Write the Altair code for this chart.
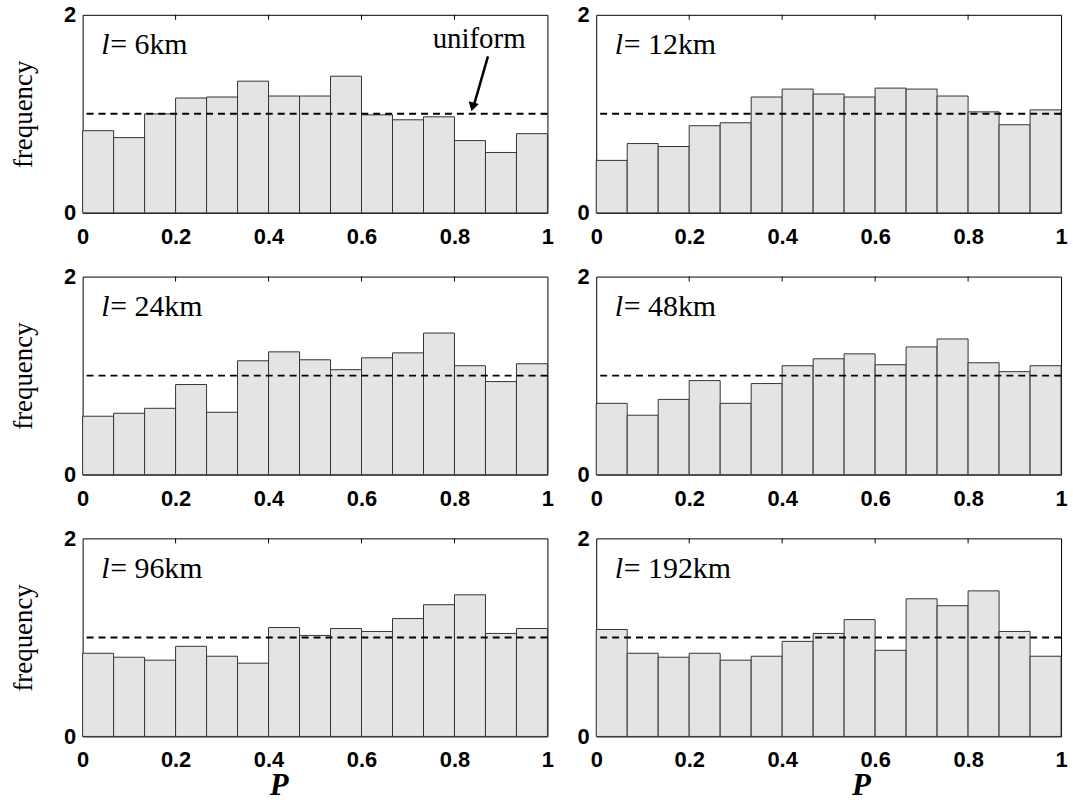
import altair as alt
import pandas as pd

# Histogram of P in 15 equal bins on [0, 1], one panel per length scale l
BIN_EDGES = [i / 15 for i in range(16)]

freq_6km = [0.83, 0.76, 1.00, 1.16, 1.17, 1.33, 1.18, 1.18, 1.38, 0.99, 0.94, 0.97, 0.73, 0.61, 0.80]
freq_12km = [0.53, 0.70, 0.67, 0.88, 0.91, 1.17, 1.25, 1.20, 1.17, 1.26, 1.25, 1.18, 1.02, 0.89, 1.04]
freq_24km = [0.59, 0.62, 0.67, 0.91, 0.63, 1.15, 1.24, 1.16, 1.06, 1.18, 1.23, 1.43, 1.10, 0.94, 1.12]
freq_48km = [0.72, 0.60, 0.76, 0.95, 0.72, 0.92, 1.10, 1.17, 1.22, 1.11, 1.29, 1.37, 1.13, 1.04, 1.10]
freq_96km = [0.84, 0.80, 0.77, 0.91, 0.81, 0.74, 1.10, 1.02, 1.09, 1.06, 1.19, 1.33, 1.43, 1.04, 1.09]
freq_192km = [1.08, 0.84, 0.80, 0.84, 0.77, 0.81, 0.96, 1.04, 1.18, 0.87, 1.39, 1.32, 1.47, 1.06, 0.81]

scale_labels = ["6km", "12km", "24km", "48km", "96km", "192km"]
all_freqs = [freq_6km, freq_12km, freq_24km, freq_48km, freq_96km, freq_192km]

x_ticks = [0, 0.2, 0.4, 0.6, 0.8, 1]
y_ticks = [0, 1, 2]
uniform_level = [1]

W, H = 467, 199
SERIF = "Liberation Serif"
SANS = "Liberation Sans"

xs = alt.Scale(domain=[0, 1], nice=False, zero=False)
ys = alt.Scale(domain=[0, 2], nice=False)


def panel(freqs, km, left_col, bottom_row, with_uniform_note=False):
    bins = pd.DataFrame({"lo": BIN_EDGES[:-1], "hi": BIN_EDGES[1:], "freq": freqs, "base": 0.0})

    x_axis = alt.Axis(
        values=x_ticks, format="~g", labelFlush=False, labelOverlap=False,
        labelPadding=13 if bottom_row else 14,
        title="P" if bottom_row else "",
        titleFontStyle="italic", titleFontWeight="bold", titleFontSize=31,
        titlePadding=0, titleX=197 if left_col else 266,
    )
    y_axis = alt.Axis(
        values=y_ticks, format="d", labelPadding=7, labelOverlap=False,
        title="frequency" if left_col else "", titlePadding=26,
    )

    bars = alt.Chart(bins).mark_rect(
        fill="#e4e4e4", stroke="#333333", strokeWidth=1
    ).encode(
        x=alt.X("lo:Q", scale=xs, axis=x_axis),
        x2="hi:Q",
        y=alt.Y("freq:Q", scale=ys, axis=y_axis),
        y2="base:Q",
    )

    uniform = alt.Chart(pd.DataFrame({"u": uniform_level})).mark_rule(
        color="black", strokeWidth=2, strokeDash=[7, 5]
    ).encode(y=alt.Y("u:Q", scale=ys))

    # inward tick marks on the top edge and right edge (box style)
    top_ticks = alt.Chart(pd.DataFrame({"t": x_ticks[1:-1]})).mark_rule(
        color="black", strokeWidth=1
    ).encode(x=alt.X("t:Q", scale=xs), y=alt.value(0), y2=alt.value(5))
    right_ticks = alt.Chart(pd.DataFrame({"v": [1]})).mark_rule(
        color="black", strokeWidth=1
    ).encode(y=alt.Y("v:Q", scale=ys), x=alt.value(W - 5), x2=alt.value(W))

    lab = pd.DataFrame({"x": [0.04], "y": [1.6]})
    l_italic = alt.Chart(lab).mark_text(
        text="l", font=SERIF, fontStyle="italic", fontSize=30, align="left",
        baseline="alphabetic", color="black",
    ).encode(x=alt.X("x:Q", scale=xs), y=alt.Y("y:Q", scale=ys))
    l_rest = alt.Chart(lab).mark_text(
        text="= " + km, font=SERIF, fontSize=30, align="left", dx=9,
        baseline="alphabetic", color="black",
    ).encode(x=alt.X("x:Q", scale=xs), y=alt.Y("y:Q", scale=ys))

    layers = [bars, uniform, top_ticks, right_ticks, l_italic, l_rest]

    if with_uniform_note:
        note = alt.Chart(pd.DataFrame({"x": [0.853], "y": [1.66]})).mark_text(
            text="uniform", font=SERIF, fontSize=29, align="center",
            baseline="alphabetic", color="black",
        ).encode(x=alt.X("x:Q", scale=xs), y=alt.Y("y:Q", scale=ys))
        arrow_pts = pd.DataFrame({"x": [0.872, 0.842], "y": [1.58, 1.09], "o": [0, 1]})
        shaft = alt.Chart(arrow_pts).mark_line(color="black", strokeWidth=2.5).encode(
            x=alt.X("x:Q", scale=xs), y=alt.Y("y:Q", scale=ys), order="o:O",
        )
        head = alt.Chart(pd.DataFrame({"x": [0.839], "y": [1.07]})).mark_point(
            shape="triangle-down", filled=True, color="black", size=110, angle=15,
            opacity=1,
        ).encode(x=alt.X("x:Q", scale=xs), y=alt.Y("y:Q", scale=ys))
        layers += [note, shaft, head]

    return alt.layer(*layers).properties(width=W, height=H)


panels = [
    panel(f, km, left_col=(i % 2 == 0), bottom_row=(i >= 4), with_uniform_note=(i == 0))
    for i, (f, km) in enumerate(zip(all_freqs, scale_labels))
]

chart = alt.concat(
    *panels, columns=2, spacing={"row": 64, "column": 49}, bounds="flush"
).properties(
    padding={"left": 9, "top": 1, "right": 5, "bottom": 3},
    background="white",
).configure_view(
    stroke="black", strokeWidth=1
).configure_axis(
    domain=False, ticks=False, grid=False,
    labelFont=SANS, labelFontWeight="bold", labelFontSize=22, labelColor="black",
    titleFont=SERIF, titleFontWeight="normal", titleFontSize=27, titleColor="black",
)

chart.save("out.html", embed_options={"renderer": "svg", "actions": False})
